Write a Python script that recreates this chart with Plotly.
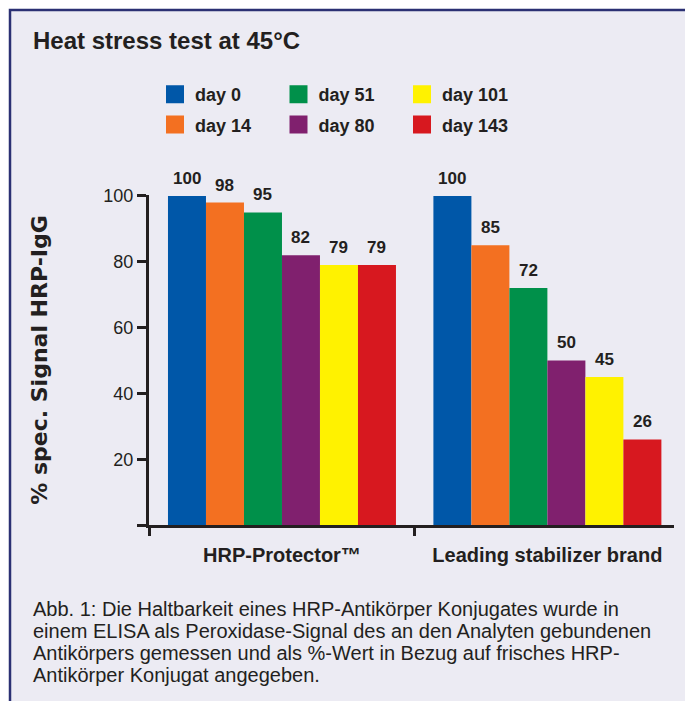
import plotly.graph_objects as go

# ---- data ----
categories = ["HRP-Protector™", "Leading stabilizer brand"]
series_names = ["day 0", "day 14", "day 51", "day 80", "day 101", "day 143"]
day0 = [100, 100]
day14 = [98, 85]
day51 = [95, 72]
day80 = [82, 50]
day101 = [79, 45]
day143 = [79, 26]
series_values = [day0, day14, day51, day80, day101, day143]
colors = ["#0057A8", "#F37021", "#00904A", "#80206E", "#FFF200", "#D7181F"]
y_tickvals = [0, 20, 40, 60, 80, 100]
y_ticktext = ["", "20", "40", "60", "80", "100"]
caption_lines = [
    "Abb. 1: Die Haltbarkeit eines HRP-Antikörper Konjugates wurde in",
    "einem ELISA als Peroxidase-Signal des an den Analyten gebundenen",
    "Antikörpers gemessen und als %-Wert in Bezug auf frisches HRP-",
    "Antikörper Konjugat angegeben.",
]

# page body margin offset (browser default 8px)
OFF = 8
W, H = 693, 701
# desired screen positions of the plot area
SX0, SX1, SY0, SY1 = 149, 674, 195, 525
ML = SX0 - OFF
MR = W - (SX1 - OFF)
MT = SY0 - OFF
MB = H - (SY1 - OFF)
PW = W - ML - MR
PH = H - MT - MB

def px_x(sx):
    return (sx - SX0) / PW

def px_y(sy):
    return (SY1 - sy) / PH

TXT = "#231F20"
SANS = "Liberation Sans, Arial, sans-serif"
BARGAP = 0.141

fig = go.Figure()

legend_names = ["legend", "legend", "legend2", "legend2", "legend3", "legend3"]
for i, (name, vals, col) in enumerate(zip(series_names, series_values, colors)):
    fig.add_trace(go.Bar(
        name=name, x=categories, y=vals, marker=dict(color=col, line=dict(width=0)),
        showlegend=False, legendgroup=name,
    ))
    # legend proxy (larger square swatch)
    fig.add_trace(go.Scatter(
        name=name, x=[None], y=[None], mode="markers",
        marker=dict(symbol="square", size=16, color=col, line=dict(color=col, width=2)),
        legendgroup=name, legend=legend_names[i], showlegend=True,
    ))

# value labels above bars
n = len(series_names)
bw = (1 - BARGAP) / n
annotations = []
for i, vals in enumerate(series_values):
    off = -(1 - BARGAP) / 2 + (i + 0.5) * bw
    for c, v in enumerate(vals):
        annotations.append(dict(
            x=c + off, y=v, xref="x", yref="y", text=str(v), showarrow=False,
            yanchor="bottom", xanchor="center", yshift=6,
            font=dict(family=SANS, size=17, color=TXT, weight="bold"),
        ))

cap_y = [609, 631, 653, 675]
for line, yy in zip(caption_lines, cap_y):
    annotations.append(dict(
        x=px_x(31), y=px_y(yy), xref="paper", yref="paper", text=line,
        showarrow=False, xanchor="left", yanchor="middle",
        font=dict(family=SANS, size=20, color=TXT),
    ))

legend_common = dict(
    orientation="v", xanchor="left", yanchor="top", bgcolor="rgba(0,0,0,0)",
    borderwidth=0, tracegroupgap=4, traceorder="grouped",
    font=dict(family=SANS, size=18, color=TXT, weight="bold"),
)
ly = px_y(76)

fig.update_layout(
    width=W, height=H, autosize=False,
    margin=dict(l=ML, r=MR, t=MT, b=MB, pad=0),
    paper_bgcolor="white", plot_bgcolor="rgba(0,0,0,0)",
    barmode="group", bargap=BARGAP, bargroupgap=0,
    title=dict(text="Heat stress test at 45°C", x=(33 - OFF) / W, xref="container", xanchor="left",
               y=1 - (41 - OFF) / H, yref="container", yanchor="middle",
               font=dict(family=SANS, size=24, color=TXT, weight="bold")),
    legend=dict(x=px_x(177 - 22), y=ly, **legend_common),
    legend2=dict(x=px_x(300.5 - 22), y=ly, **legend_common),
    legend3=dict(x=px_x(424 - 22), y=ly, **legend_common),
    xaxis=dict(
        type="category", range=[-0.501, 1.477], showline=True, linewidth=3, linecolor=TXT,
        ticks="outside", tickson="boundaries", ticklen=8, tickwidth=3, tickcolor=TXT,
        showgrid=False, zeroline=False, automargin=False, tickangle=0,
        ticklabelstandoff=10,
        tickfont=dict(family=SANS, size=20, color=TXT, weight="bold"),
    ),
    yaxis=dict(
        range=[0, 100.3], showline=True, linewidth=3, linecolor=TXT,
        ticks="outside", ticklen=9, tickwidth=3, tickcolor=TXT,
        tickmode="array", tickvals=y_tickvals, ticktext=y_ticktext,
        showgrid=False, zeroline=False, automargin=False,
        tickfont=dict(family=SANS, size=18, color=TXT),
        title=dict(text="% spec. Signal HRP-IgG", standoff=50,
                   font=dict(family="DejaVu Sans, sans-serif", size=22, color=TXT, weight="bold")),
    ),
    annotations=annotations,
    shapes=[dict(
        type="rect", xref="paper", yref="paper", layer="below",
        x0=px_x(10), x1=px_x(688), y0=px_y(730), y1=px_y(10),
        fillcolor="#ECEBF3", line=dict(color="#2B3073", width=2.5),
    )],
)

fig.write_html("out.html")
